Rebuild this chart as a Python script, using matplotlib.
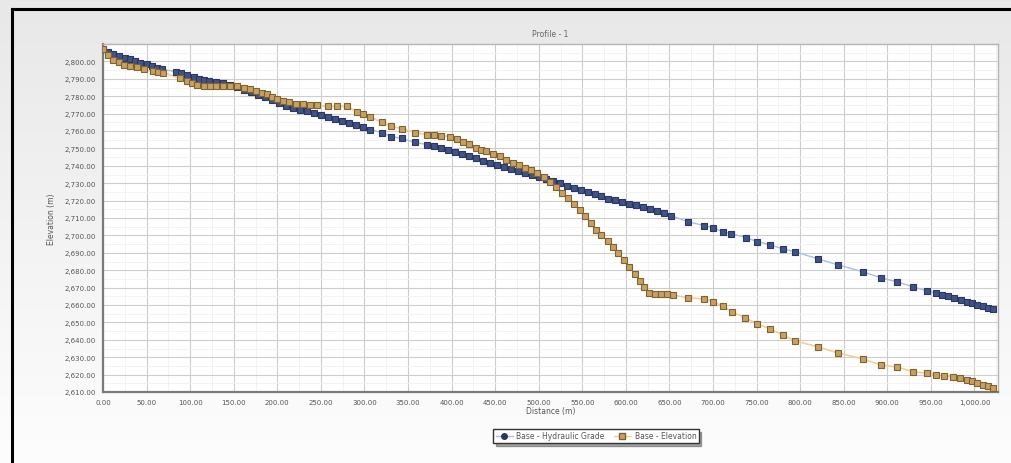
import numpy as np
import matplotlib
matplotlib.use("Agg")
import matplotlib.pyplot as plt
from matplotlib.lines import Line2D
from matplotlib.ticker import FuncFormatter, MultipleLocator

# Base - Hydraulic Grade
hg_dist = [0, 6, 12, 18, 25, 31, 37, 43, 50, 56, 62, 68, 84, 90, 96, 104, 110, 116,
           122, 130, 138, 146, 154, 162, 170, 178, 186, 194, 202, 210, 218, 226, 234,
           242, 250, 258, 266, 274, 282, 290, 298, 306, 320, 331, 343, 358, 372, 380,
           388, 396, 404, 412, 420, 428, 436, 444, 452, 460, 468, 476, 484, 492, 500,
           508, 516, 524, 532, 540, 548, 556, 564, 572, 580, 588, 596, 604, 612, 620,
           628, 636, 644, 652, 671, 690, 700, 711, 721, 738, 751, 765, 780, 794, 820,
           843, 872, 893, 911, 930, 945, 956, 963, 970, 977, 984, 991, 997, 1003, 1010,
           1016, 1021]
hg_elev = [2807.0, 2805.5, 2804.4, 2803.3, 2802.2, 2801.1, 2800.2, 2799.3, 2798.3,
           2797.4, 2796.4, 2795.5, 2794.0, 2793.2, 2792.2, 2790.9, 2790.1, 2789.5,
           2788.8, 2788.0, 2787.3, 2786.4, 2785.2, 2783.8, 2782.4, 2780.9, 2779.3,
           2777.7, 2776.0, 2774.4, 2773.1, 2772.2, 2771.4, 2770.5, 2769.4, 2768.3,
           2767.0, 2765.7, 2764.6, 2763.4, 2762.1, 2760.8, 2759.1, 2756.8, 2755.7,
           2753.4, 2752.2, 2751.1, 2750.0, 2748.9, 2747.8, 2746.7, 2745.4, 2744.2,
           2742.9, 2741.6, 2740.4, 2739.2, 2738.0, 2736.9, 2735.7, 2734.6, 2733.4,
           2732.2, 2731.1, 2729.9, 2728.6, 2727.4, 2726.2, 2725.0, 2723.7, 2722.5,
           2721.2, 2720.1, 2719.1, 2718.2, 2717.3, 2716.4, 2715.4, 2714.0, 2712.6,
           2711.3, 2707.9, 2705.6, 2704.4, 2702.1, 2701.0, 2698.7, 2696.4, 2694.6,
           2692.3, 2690.6, 2686.6, 2683.1, 2679.1, 2675.6, 2673.3, 2670.4, 2668.1,
           2667.0, 2665.8, 2664.9, 2664.1, 2663.0, 2661.8, 2661.0, 2660.1, 2659.2,
           2658.4, 2657.8]

# Base - Elevation
el_dist = [0, 6, 12, 18, 24, 31, 39, 47, 57, 63, 69, 88, 96, 102, 108, 116, 123, 130,
           138, 146, 154, 162, 169, 176, 182, 188, 194, 200, 206, 214, 222, 230, 237,
           246, 258, 268, 280, 291, 298, 306, 320, 331, 343, 358, 372, 380, 388, 398,
           406, 413, 420, 428, 434, 440, 448, 456, 463, 470, 477, 484, 491, 498, 506,
           513, 520, 527, 534, 541, 547, 553, 560, 566, 572, 579, 585, 591, 598, 604,
           610, 616, 621, 627, 633, 640, 647, 654, 671, 690, 700, 711, 722, 737, 751,
           765, 780, 794, 820, 843, 872, 893, 911, 930, 945, 956, 965, 975, 983, 991,
           997, 1003, 1010, 1015, 1021]
el_elev = [2807.0, 2803.5, 2801.0, 2799.5, 2798.2, 2797.3, 2796.5, 2795.4, 2794.2,
           2793.8, 2793.6, 2790.2, 2788.6, 2787.5, 2786.7, 2786.0, 2785.6, 2785.6,
           2785.6, 2785.8, 2785.6, 2784.9, 2783.9, 2782.8, 2781.9, 2781.0, 2779.7,
           2778.4, 2777.0, 2776.4, 2775.6, 2775.3, 2775.2, 2774.8, 2774.1, 2774.1,
           2774.1, 2771.2, 2769.8, 2768.3, 2764.9, 2762.6, 2761.4, 2759.1, 2757.9,
           2757.5, 2757.3, 2756.8, 2755.5, 2753.9, 2752.4, 2750.5, 2749.2, 2748.4,
           2747.0, 2745.4, 2743.5, 2741.8, 2740.3, 2738.9, 2737.5, 2736.1, 2733.6,
           2730.9, 2727.8, 2724.6, 2721.3, 2717.8, 2714.8, 2711.2, 2707.2, 2703.3,
           2700.3, 2696.8, 2693.5, 2690.0, 2685.7, 2682.0, 2678.0, 2674.0, 2670.5,
           2667.0, 2666.6, 2666.4, 2666.2, 2665.8, 2664.1, 2663.5, 2661.8, 2659.5,
           2656.1, 2652.6, 2649.1, 2646.3, 2642.8, 2639.4, 2636.0, 2632.5, 2629.0,
           2625.5, 2624.4, 2621.5, 2620.9, 2619.8, 2619.2, 2618.6, 2617.8, 2616.9,
           2616.2, 2615.2, 2614.0, 2613.3, 2612.3]

fig = plt.figure(figsize=(10.11, 4.64), dpi=100)

# light grey gradient background
bg = fig.add_axes([0, 0, 1, 1], zorder=-10)
grad = np.linspace(0, 1, 256).reshape(-1, 1)
bg.imshow(grad, aspect="auto", cmap=matplotlib.colors.LinearSegmentedColormap.from_list(
    "bg", ["#e8e8e8", "#fdfdfd"]), extent=[0, 1, 0, 1])
bg.axis("off")

# black frame (left + top)
fig.add_artist(Line2D([12 / 1011, 12 / 1011], [0, 1 - 10 / 464], color="black", lw=2.2))
fig.add_artist(Line2D([12 / 1011, 1], [1 - 10 / 464, 1 - 10 / 464], color="black", lw=2.2))

ax = fig.add_axes([103 / 1011, 1 - 393 / 464, (998 - 103) / 1011, (393 - 45) / 464])
ax.set_facecolor("white")

ax.plot(hg_dist, hg_elev, color="#a9bfe0", lw=1.0, zorder=2)
ax.plot(el_dist, el_elev, color="#f5cd95", lw=1.2, zorder=2)
ax.plot(hg_dist, hg_elev, ls="none", marker="s", ms=4.8, mfc="#40528a",
        mec="#2a375e", mew=0.8, zorder=3)
ax.plot(el_dist, el_elev, ls="none", marker="s", ms=4.8, mfc="#c9a062",
        mec="#7d6330", mew=0.8, zorder=4)

ax.set_xlim(0, 1027)
ax.set_ylim(2610, 2810)
ax.xaxis.set_major_locator(MultipleLocator(50))
ax.xaxis.set_minor_locator(MultipleLocator(25))
ax.set_yticks(np.arange(2610, 2801, 10))
ax.yaxis.set_minor_locator(MultipleLocator(5))
fmt = FuncFormatter(lambda v, p: f"{v:,.2f}")
ax.xaxis.set_major_formatter(fmt)
ax.yaxis.set_major_formatter(fmt)

ax.grid(which="major", color="#cdcdcd", lw=0.8)
ax.grid(which="minor", color="#f1f1f1", lw=0.6)
ax.set_axisbelow(True)
ax.tick_params(which="both", length=0, labelsize=5, labelcolor="#555555", pad=5)

for side in ["left", "bottom"]:
    ax.spines[side].set_color("#7a7a7a")
    ax.spines[side].set_linewidth(1.6)
for side in ["top", "right"]:
    ax.spines[side].set_color("#b5b5b5")
    ax.spines[side].set_linewidth(1.0)

ax.set_title("Profile - 1", fontsize=5.5, color="#666666", pad=6)
ax.set_xlabel("Distance (m)", fontsize=5.5, color="#555555", labelpad=1)
ax.set_ylabel("Elevation (m)", fontsize=5.5, color="#555555", labelpad=6)

handles = [
    Line2D([], [], color="#a9bfe0", lw=1, marker="o", ms=4, mfc="#2a375e", mec="#2a375e"),
    Line2D([], [], color="#f5cd95", lw=1, marker="s", ms=4, mfc="#c9a062", mec="#7d6330"),
]
leg = fig.legend(handles, ["Base - Hydraulic Grade", "Base - Elevation"], ncol=2,
                 loc="center", bbox_to_anchor=(596 / 1011, 1 - 437 / 464),
                 fontsize=5.5, frameon=True, fancybox=False, handlelength=2.2,
                 borderpad=0.3, columnspacing=1.2, handletextpad=0.5, shadow=True)
leg.get_frame().set_edgecolor("#333333")
leg.get_frame().set_linewidth(1.0)
for t in leg.get_texts():
    t.set_color("#555555")

fig.savefig("out.png", dpi=100)
